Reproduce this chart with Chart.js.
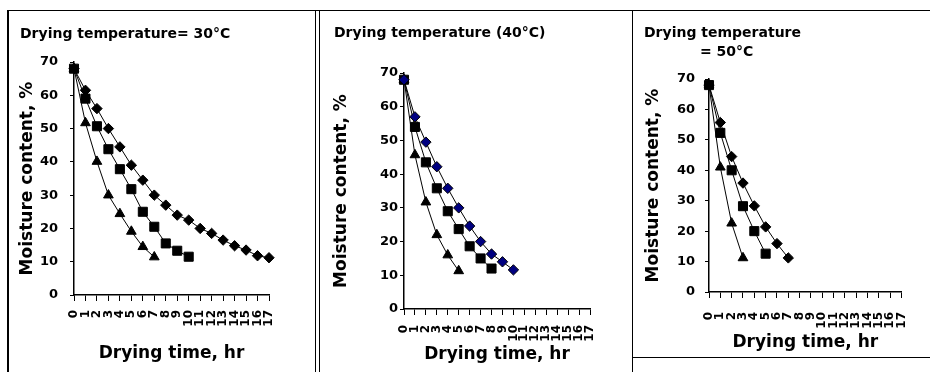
<!DOCTYPE html>
<html><head><meta charset="utf-8">
<script src="https://cdn.jsdelivr.net/npm/chart.js@4.4.1/dist/chart.umd.min.js"></script>
<style>
html,body{margin:0;padding:0;background:#fff;width:930px;height:372px;overflow:hidden;}
body{position:relative;}
canvas{position:absolute;top:0;}
.ln{position:absolute;background:#000;}
</style></head><body>
<div class="ln" style="left:7px;top:10px;width:923px;height:1px"></div>
<div class="ln" style="left:7px;top:10px;width:2px;height:362px"></div>
<div class="ln" style="left:315px;top:10px;width:1px;height:362px"></div>
<div class="ln" style="left:319px;top:10px;width:1px;height:362px"></div>
<div class="ln" style="left:632px;top:10px;width:1px;height:362px"></div>
<div class="ln" style="left:632px;top:357px;width:298px;height:1px"></div>
<canvas id="c1" width="315" height="372" style="left:0px"></canvas>
<canvas id="c2" width="312" height="372" style="left:320px"></canvas>
<canvas id="c3" width="297" height="357" style="left:633px"></canvas>
<script>
const timeLabels = ['0','1','2','3','4','5','6','7','8','9','10','11','12','13','14','15','16','17'];
const yTitle = 'Moisture content, %';
const xTitle = 'Drying time, hr';

// 30 °C
const diamond30 = [68, 61.5, 56, 50, 44.5, 39, 34.5, 30, 27, 24, 22.5, 20, 18.5, 16.5, 14.8, 13.5, 11.8, 11.2];
const square30  = [68, 59, 50.7, 43.8, 37.8, 31.8, 25, 20.5, 15.5, 13.3, 11.5];
const triangle30 = [68, 51.7, 40.1, 30, 24.4, 19.1, 14.5, 11.4];
// 40 °C
const diamond40 = [68, 57, 49.5, 42.2, 35.8, 30, 24.6, 20, 16.3, 14, 11.6];
const square40  = [68, 54, 43.5, 35.8, 29, 23.7, 18.6, 15, 12];
const triangle40 = [68, 45.7, 31.7, 22, 16, 11.3];
// 50 °C
const diamond50 = [68, 55.7, 44.5, 35.8, 28.3, 21.4, 15.9, 11.2];
const square50  = [68, 52.3, 40, 28.2, 20, 12.6];
const triangle50 = [68, 41, 22.6, 11.2];

const F = "'DejaVu Sans', sans-serif";

function makeChart(id, titleText, series, diaFill, g) {
  const styles = [
    {pointStyle:'rectRot', pointRadius:5.2, fill: diaFill},
    {pointStyle:'rect', pointRadius:6.4, fill:'#000'},
    {pointStyle:'triangle', pointRadius:5.6, fill:'#000'}
  ];
  const datasets = series.map((d, i) => ({
    data: d,
    borderColor:'#000', borderWidth:1, tension:0, fill:false,
    pointStyle: styles[i].pointStyle, pointRadius: styles[i].pointRadius,
    pointBackgroundColor: styles[i].fill, pointBorderColor:'#000', pointBorderWidth:1
  }));
  return new Chart(document.getElementById(id), {
    type:'line',
    data:{labels: timeLabels, datasets},
    options:{
      responsive:false, animation:false, devicePixelRatio:1,
      layout:{padding:{left:g.left, top:0, right:g.right, bottom:0}},
      plugins:{
        legend:{display:false}, tooltip:{enabled:false},
        title:{display:true, text:titleText, align:'start', color:'#000',
          font:{family:F, size:14, weight:'bold', lineHeight:g.tLH},
          padding:{top:g.tTop, bottom:g.tBot}}
      },
      scales:{
        x:{type:'category', offset:false,
          grid:{display:true, drawOnChartArea:false, drawTicks:true, tickLength:6, color:'#000', offset:false},
          border:{display:true, color:'#000', width:1.5},
          ticks:{autoSkip:false, minRotation:90, maxRotation:90, padding:g.xPad, color:'#000',
            font:{family:F, size:12, weight:'bold'}},
          title:{display:true, text:xTitle, color:'#000', font:{family:F, size:17, weight:'bold', lineHeight:1},
            padding:{top:0, bottom:g.xtBot}},
          afterFit: s => { s.height = g.xH; }
        },
        y:{min:0, max:70,
          ticks:{stepSize:10, padding:g.yPad, color:'#000', font:{family:F, size:13, weight:'bold'}},
          grid:{display:true, drawOnChartArea:false, drawTicks:true, tickLength:4, color:'#000'},
          border:{display:true, color:'#000', width:1.5},
          title:{display:true, text:yTitle, color:'#000', font:{family:F, size:17, weight:'bold', lineHeight:1},
            padding:{top:g.ytTop, bottom:0}},
          afterFit: s => { s.width = g.yW; }
        }
      }
    }
  });
}

makeChart('c1', 'Drying temperature= 30°C', [diamond30, square30, triangle30], '#000',
  {left:20, right:46, tLH:1.2, tTop:25.6, tBot:19.6, xH:77, xPad:9, xtBot:10, yPad:12, ytTop:-0.5, yW:54});
makeChart('c2', 'Drying temperature (40°C)', [diamond40, square40, triangle40], '#000080',
  {left:14, right:42, tLH:1.2, tTop:24.6, tBot:31.6, xH:63, xPad:10, xtBot:9, yPad:2, ytTop:-1, yW:70});
makeChart('c3', ['Drying temperature', '\u2003\u2003\u2003\u2003= 50°C'], [diamond50, square50, triangle50], '#000',
  {left:11, right:8, tLH:19/14, tTop:23.5, tBot:17.5, xH:65, xPad:14, xtBot:6, yPad:10, ytTop:1.5, yW:65});
</script>
</body></html>
